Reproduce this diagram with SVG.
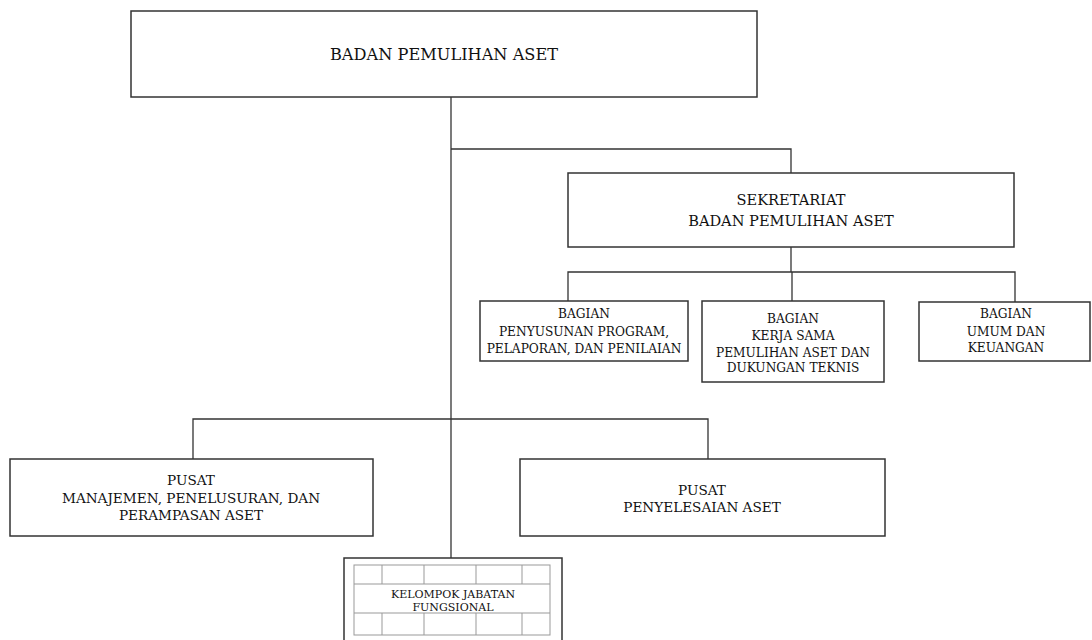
<svg xmlns="http://www.w3.org/2000/svg" width="1092" height="640" viewBox="0 0 1092 640">
<style>
.box{fill:#fff;stroke:#333;stroke-width:1.5}
.ln{fill:none;stroke:#333;stroke-width:1.3}
.grid{fill:none;stroke:#999;stroke-width:1}
text{font-family:"DejaVu Serif","Liberation Serif",serif;fill:#111;text-anchor:middle}
.t1{font-size:16.2px}
.t2{font-size:14.6px}
.t3{font-size:12.2px}
.t4{font-size:13.6px}
.t5{font-size:11px}
</style>
<rect width="1092" height="640" fill="#fff"/>
<g id="connectors">
<path class="ln" d="M451 97V558" stroke="#000"/>
<path class="ln" d="M451 149H791V173"/>
<path class="ln" d="M791 247V272"/>
<path class="ln" d="M568 301V272H1015V302"/>
<path class="ln" d="M792 272V301"/>
<path class="ln" d="M193 459V419H708V459"/>
</g>
<g id="badan">
<rect class="box" x="131" y="11" width="626" height="86"/>
<text class="t1" x="444" y="60">BADAN PEMULIHAN ASET</text>
</g>
<g id="sekretariat">
<rect class="box" x="568" y="173" width="446" height="74"/>
<text class="t2" x="791" y="205">SEKRETARIAT</text>
<text class="t2" x="791" y="226">BADAN PEMULIHAN ASET</text>
</g>
<g id="bagian-program">
<rect class="box" x="480" y="301" width="208" height="60"/>
<text class="t3" x="584" y="318">BAGIAN</text>
<text class="t3" x="584" y="336">PENYUSUNAN PROGRAM,</text>
<text class="t3" x="584" y="353">PELAPORAN, DAN PENILAIAN</text>
</g>
<g id="bagian-kerjasama">
<rect class="box" x="702" y="301" width="182" height="81"/>
<text class="t3" x="793" y="323">BAGIAN</text>
<text class="t3" x="793" y="340">KERJA SAMA</text>
<text class="t3" x="793" y="357">PEMULIHAN ASET DAN</text>
<text class="t3" x="793" y="372">DUKUNGAN TEKNIS</text>
</g>
<g id="bagian-umum">
<rect class="box" x="919" y="302" width="171" height="59"/>
<text class="t3" x="1006" y="318">BAGIAN</text>
<text class="t3" x="1006" y="336">UMUM DAN</text>
<text class="t3" x="1006" y="352">KEUANGAN</text>
</g>
<g id="pusat-manajemen">
<rect class="box" x="10" y="459" width="363" height="77"/>
<text class="t4" x="191" y="485">PUSAT</text>
<text class="t4" x="191" y="503">MANAJEMEN, PENELUSURAN, DAN</text>
<text class="t4" x="191" y="520">PERAMPASAN ASET</text>
</g>
<g id="pusat-penyelesaian">
<rect class="box" x="520" y="459" width="365" height="77"/>
<text class="t4" x="702" y="495">PUSAT</text>
<text class="t4" x="702" y="512">PENYELESAIAN ASET</text>
</g>
<g id="kelompok">
<rect class="box" x="344" y="558" width="218" height="90"/>
<rect class="grid" x="354" y="565" width="196" height="70"/>
<path class="grid" d="M354 584H550M354 613H550M382 565V584M424 565V584M476 565V584M522 565V584M382 613V635M424 613V635M476 613V635M522 613V635"/>
<text class="t5" x="453" y="598">KELOMPOK JABATAN</text>
<text class="t5" x="453" y="611">FUNGSIONAL</text>
</g>
</svg>
